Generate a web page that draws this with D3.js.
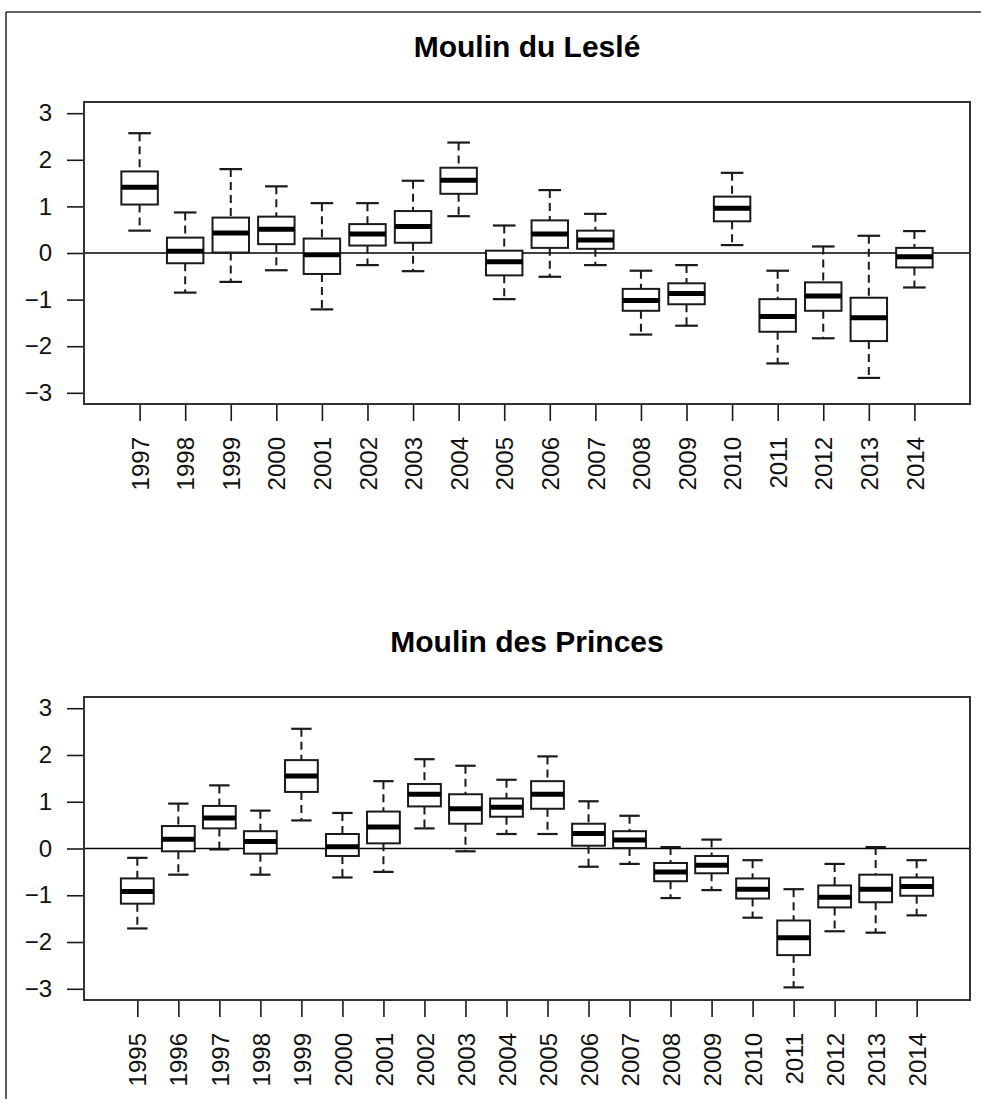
<!DOCTYPE html>
<html>
<head>
<meta charset="utf-8">
<script src="https://cdn.jsdelivr.net/npm/d3@7"></script>
<style>
  html, body { margin: 0; padding: 0; background: #fff; }
  svg { display: block; font-family: "Liberation Sans", Arial, sans-serif; }
</style>
</head>
<body>
<svg id="chart" width="981" height="1099"></svg>
<script>
// ---- Data ----
const title1 = "Moulin du Leslé";
const years1 = [1997,1998,1999,2000,2001,2002,2003,2004,2005,2006,2007,2008,2009,2010,2011,2012,2013,2014];
const hi1  = [2.57,0.87,1.80,1.43,1.07,1.07,1.55,2.37,0.59,1.35,0.84,-0.38,-0.26,1.72,-0.38,0.14,0.37,0.47];
const q3_1 = [1.75,0.33,0.76,0.78,0.31,0.62,0.90,1.83,0.05,0.70,0.48,-0.77,-0.65,1.21,-0.99,-0.63,-0.96,0.11];
const med1 = [1.41,0.04,0.43,0.51,-0.04,0.41,0.57,1.56,-0.19,0.41,0.28,-1.02,-0.87,0.96,-1.36,-0.92,-1.39,-0.08];
const q1_1 = [1.04,-0.22,0.01,0.19,-0.45,0.16,0.22,1.27,-0.48,0.11,0.09,-1.24,-1.10,0.68,-1.69,-1.24,-1.89,-0.31];
const lo1  = [0.48,-0.85,-0.62,-0.37,-1.21,-0.26,-0.39,0.79,-0.99,-0.51,-0.26,-1.75,-1.56,0.17,-2.37,-1.83,-2.68,-0.74];

const title2 = "Moulin des Princes";
const years2 = [1995,1996,1997,1998,1999,2000,2001,2002,2003,2004,2005,2006,2007,2008,2009,2010,2011,2012,2013,2014];
const hi2  = [-0.20,0.96,1.35,0.81,2.56,0.76,1.44,1.91,1.77,1.47,1.97,1.01,0.70,0.03,0.19,-0.25,-0.87,-0.33,0.03,-0.25];
const q3_2 = [-0.64,0.48,0.91,0.37,1.89,0.31,0.79,1.38,1.16,1.07,1.44,0.53,0.37,-0.31,-0.16,-0.64,-1.54,-0.79,-0.56,-0.62];
const med2 = [-0.92,0.20,0.65,0.15,1.55,0.04,0.46,1.16,0.85,0.88,1.16,0.32,0.18,-0.50,-0.36,-0.87,-1.91,-1.04,-0.87,-0.81];
const q1_2 = [-1.18,-0.06,0.43,-0.11,1.21,-0.16,0.11,0.90,0.53,0.68,0.85,0.06,0.01,-0.70,-0.53,-1.07,-2.28,-1.26,-1.15,-1.01];
const lo2  = [-1.71,-0.56,-0.02,-0.56,0.60,-0.62,-0.50,0.43,-0.06,0.31,0.31,-0.39,-0.33,-1.06,-0.89,-1.48,-2.97,-1.77,-1.80,-1.43];

const yTicks = [-3,-2,-1,0,1,2,3];
const yLim = [-3, 3];

// ---- Drawing ----
const svg = d3.select("#chart");
const ink = "#1a1a1a";

// outer frame (top and left edges visible)
svg.append("line").attr("x1", 6).attr("y1", 12).attr("x2", 981).attr("y2", 12)
  .attr("stroke", "#333").attr("stroke-width", 1.6);
svg.append("line").attr("x1", 6).attr("y1", 12).attr("x2", 6).attr("y2", 1099)
  .attr("stroke", "#333").attr("stroke-width", 1.6);

function panel(opts) {
  const {title, years, lo, q1, med, q3, hi, top, bottom, left, right, titleY} = opts;
  const n = years.length;
  const pad = 0.04 * n;
  const x = d3.scaleLinear().domain([0.5 - pad, n + 0.5 + pad]).range([left, right]);
  const ext = 0.04 * (yLim[1] - yLim[0]);
  const y = d3.scaleLinear().domain([yLim[0] - ext, yLim[1] + ext]).range([bottom, top]);
  const g = svg.append("g");

  // title
  g.append("text").attr("x", (left + right) / 2).attr("y", titleY)
    .attr("text-anchor", "middle").attr("font-weight", "bold").attr("font-size", 30)
    .attr("fill", "#000").text(title);

  // zero line
  g.append("line").attr("x1", left).attr("x2", right).attr("y1", y(0)).attr("y2", y(0))
    .attr("stroke", "#000").attr("stroke-width", 1.5);

  const data = years.map((yr, i) => ({yr, i: i + 1, lo: lo[i], q1: q1[i], med: med[i], q3: q3[i], hi: hi[i]}));
  const bw = 0.8 * (x(1) - x(0));
  const cw = 0.62 * bw;

  const b = g.selectAll("g.box").data(data).join("g").attr("class", "box");
  // whiskers (dashed)
  b.append("line").attr("x1", d => x(d.i)).attr("x2", d => x(d.i))
    .attr("y1", d => y(d.hi)).attr("y2", d => y(d.q3))
    .attr("stroke", ink).attr("stroke-width", 2).attr("stroke-dasharray", "8,5");
  b.append("line").attr("x1", d => x(d.i)).attr("x2", d => x(d.i))
    .attr("y1", d => y(d.q1)).attr("y2", d => y(d.lo))
    .attr("stroke", ink).attr("stroke-width", 2).attr("stroke-dasharray", "8,5");
  // caps
  b.append("line").attr("x1", d => x(d.i) - cw / 2).attr("x2", d => x(d.i) + cw / 2)
    .attr("y1", d => y(d.hi)).attr("y2", d => y(d.hi))
    .attr("stroke", ink).attr("stroke-width", 2.2);
  b.append("line").attr("x1", d => x(d.i) - cw / 2).attr("x2", d => x(d.i) + cw / 2)
    .attr("y1", d => y(d.lo)).attr("y2", d => y(d.lo))
    .attr("stroke", ink).attr("stroke-width", 2.2);
  // box
  b.append("rect").attr("x", d => x(d.i) - bw / 2).attr("width", bw)
    .attr("y", d => y(d.q3)).attr("height", d => y(d.q1) - y(d.q3))
    .attr("fill", "#fff").attr("stroke", ink).attr("stroke-width", 2);
  // median
  b.append("line").attr("x1", d => x(d.i) - bw / 2).attr("x2", d => x(d.i) + bw / 2)
    .attr("y1", d => y(d.med)).attr("y2", d => y(d.med))
    .attr("stroke", "#000").attr("stroke-width", 5);

  // y axis
  const ya = g.append("g").attr("transform", `translate(${left},0)`)
    .call(d3.axisLeft(y).tickValues(yTicks).tickSize(17).tickPadding(15).tickFormat(d3.format("d")));
  ya.select(".domain").remove();
  ya.selectAll("line").attr("stroke", ink).attr("stroke-width", 1.6);
  ya.selectAll("text").attr("font-size", 24).attr("fill", "#111")
    .attr("font-family", "'Liberation Sans', Arial, sans-serif");

  // x axis
  const xa = g.append("g").attr("transform", `translate(0,${bottom})`)
    .call(d3.axisBottom(x).tickValues(data.map(d => d.i)).tickSize(17)
      .tickFormat((d) => years[d - 1]));
  xa.select(".domain").remove();
  xa.selectAll("line").attr("stroke", ink).attr("stroke-width", 1.6);
  xa.selectAll("text")
    .attr("font-size", 24).attr("fill", "#111")
    .attr("font-family", "'Liberation Sans', Arial, sans-serif")
    .attr("text-anchor", "end")
    .attr("transform", "translate(0,33) rotate(-90)")
    .attr("x", 0).attr("y", 0).attr("dy", "0.36em");

  // plot frame
  g.append("rect").attr("x", left).attr("y", top).attr("width", right - left).attr("height", bottom - top)
    .attr("fill", "none").attr("stroke", "#333").attr("stroke-width", 2);
}

panel({title: title1, years: years1, lo: lo1, q1: q1_1, med: med1, q3: q3_1, hi: hi1,
  top: 102, bottom: 404, left: 84, right: 970, titleY: 57});
panel({title: title2, years: years2, lo: lo2, q1: q1_2, med: med2, q3: q3_2, hi: hi2,
  top: 697, bottom: 1000, left: 84, right: 970, titleY: 652});
</script>
</body>
</html>
